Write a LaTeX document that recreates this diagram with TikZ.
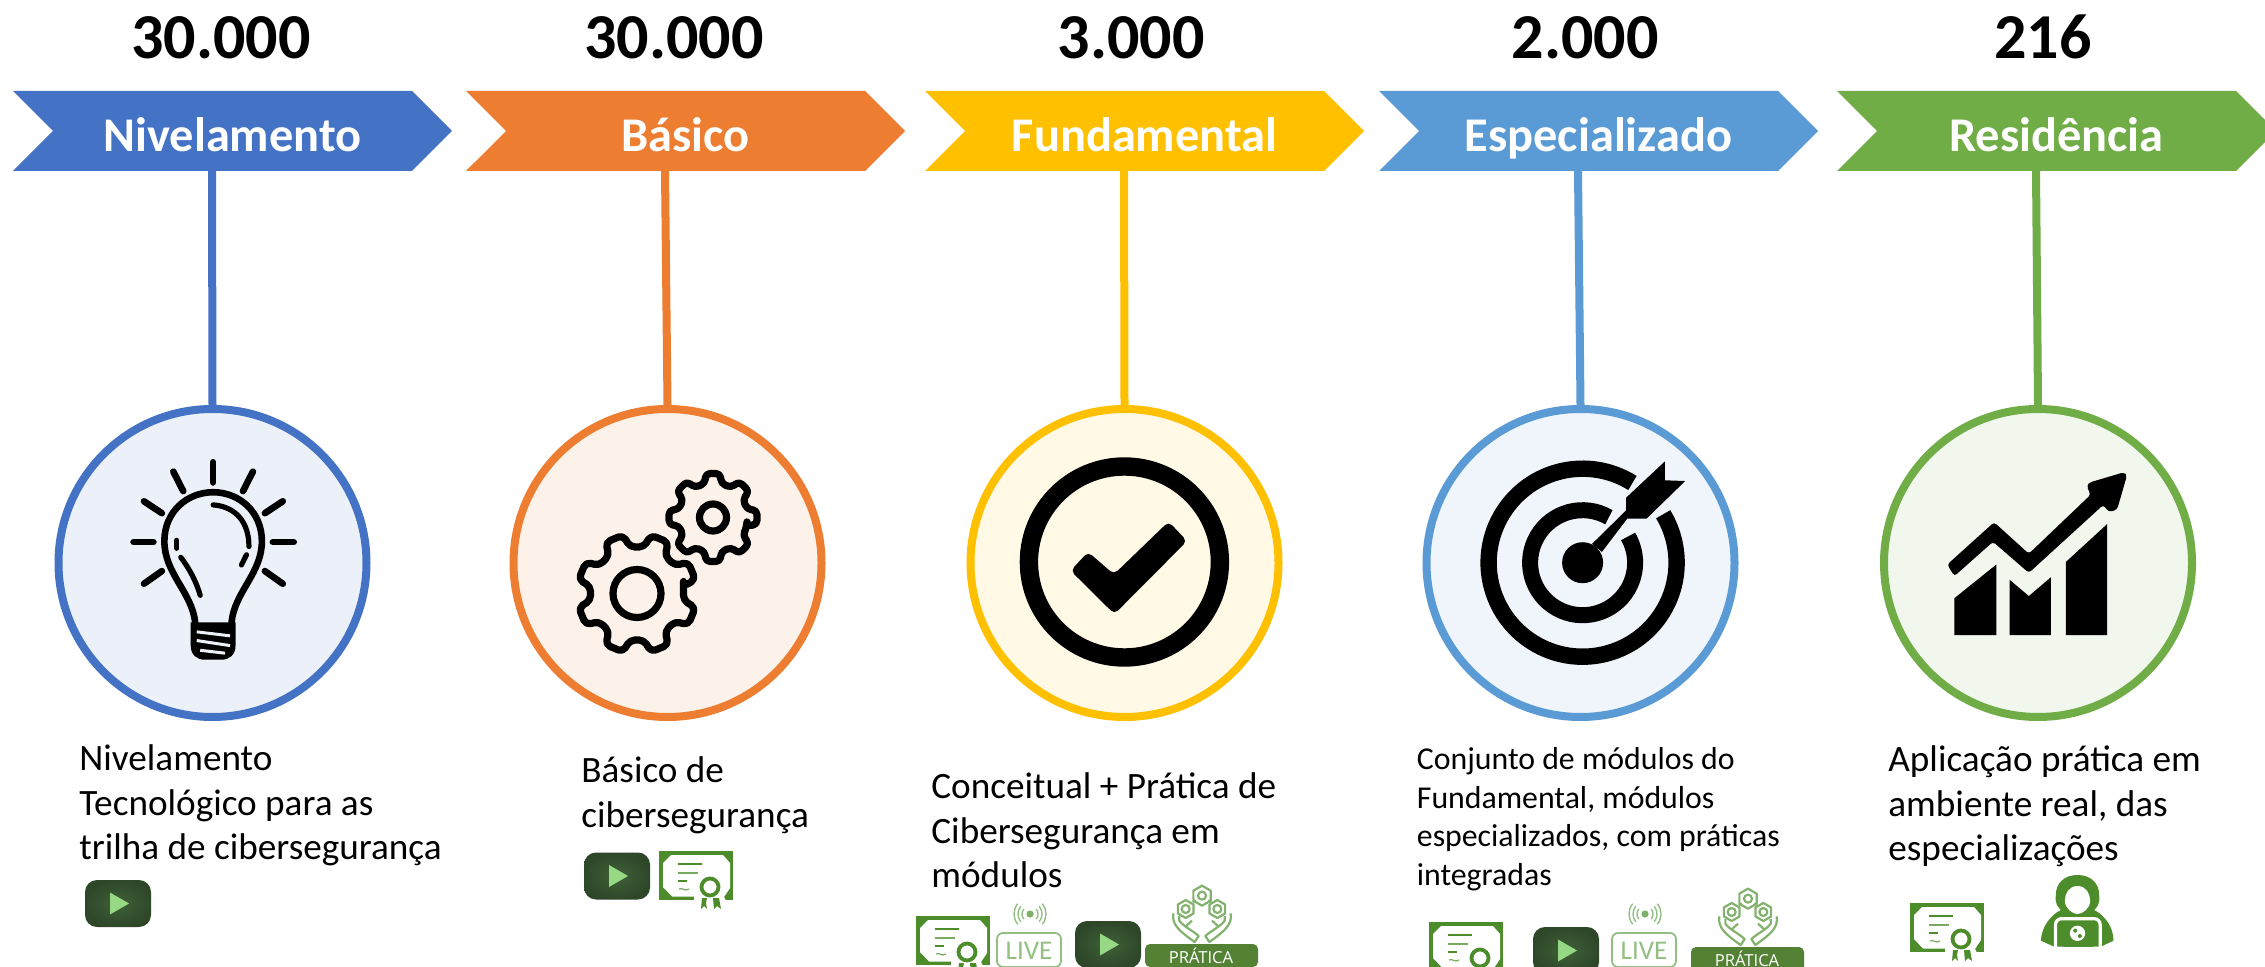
\documentclass[tikz,border=0pt]{standalone}
\usepackage{fontspec}
\setmainfont{Carlito}
\newfontfamily\opensans{Open Sans}
\usetikzlibrary{shapes.symbols,calc}
\definecolor{cBlue}{HTML}{4472C4}
\definecolor{cOrange}{HTML}{ED7D31}
\definecolor{cYellow}{HTML}{FFC000}
\definecolor{cSky}{HTML}{5B9BD5}
\definecolor{cGreen}{HTML}{70AD47}
\definecolor{gDark}{HTML}{4C8C2B}
\definecolor{gLight}{HTML}{94BF83}
\definecolor{gPlay}{HTML}{3F6138}
\definecolor{gPlayEdge}{HTML}{2E4729}
\definecolor{gTri}{HTML}{97D884}
\definecolor{gBar}{HTML}{548235}
\tikzset{
  chev/.style={signal,signal to=east,signal from=west,signal pointer angle=90,
    minimum width=219.5pt,minimum height=40pt,inner sep=0pt,outer sep=0pt,
    fill=#1,text=white,font=\fontsize{24.2}{26}\selectfont\bfseries,text height=20.5pt,text depth=0pt},
  ring/.style={circle,draw=#1,fill=#1!10!white,line width=4pt,minimum size=154pt,inner sep=0pt},
  conn/.style={draw=#1,line width=4pt},
  count/.style={font=\fontsize{32}{36}\selectfont\bfseries,anchor=base,inner sep=0pt},
  desc/.style={font=\fontsize{18.6}{22.4}\selectfont,align=left,anchor=north west,inner sep=0pt},
  descs/.style={font=\fontsize{15.9}{19.2}\selectfont,align=left,anchor=north west,inner sep=0pt},
  ico/.style={line width=3.3pt,line cap=round,line join=round,draw=black},
  pics/playicon/.style={code={
    \shade[inner color=gPlay,outer color=gPlayEdge,rounded corners=6pt] (-33,-23.5) rectangle (33,23.5);
    \fill[gTri] (-8,-11) -- (11,0) -- (-8,11) -- cycle;
  }},
  pics/certicon/.style={code={
    \fill[gDark] (0,0) rectangle (74,49);
    \fill[white] (12,4) -- (64,4) -- (71,12) -- (71,37) -- (65,46) -- (67,50) -- (35,50) -- (35,45.5) -- (13,45.5) -- (4,36) -- (4,12) -- cycle;
    \draw[gDark,line width=.9pt] (19,13) -- (43,13);
    \draw[gLight!60!gDark,line width=.9pt] (19,22) -- (39,22);
    \draw[gDark,line width=.9pt] (19,30) -- (28,30);
    \draw[gLight!60!gDark,line width=.6pt] (20,38) .. controls (23,36) and (26,41) .. (30,38);
    \draw[gDark,line width=1.9pt] (51,36) circle[radius=8.5];
    \fill[gDark] (43,47) -- (48,47) -- (47,52) -- (48,58) -- (45,55) -- (42,58) -- cycle;
    \fill[gDark] (54,47) -- (60,47) -- (62,58) -- (58,55) -- (55,58) -- cycle;
  }},
  pics/liveicon/.style={code={
    \draw[gLight,line width=.9pt,rounded corners=3pt] (0,0) rectangle (64,34);
    \node[text=gLight,font=\fontsize{13.5}{14}\selectfont,inner sep=0pt] (-t) at (32,18) {LIVE};
    \fill[gLight!70!gDark] (33,-19) circle[radius=3.6];
    \foreach \r in {8,12,16}{
      \draw[gLight,line width=.7pt] ($(33,-19)+(-40:\r)$) arc[start angle=-40,end angle=40,radius=\r];
      \draw[gLight,line width=.7pt] ($(33,-19)+(140:\r)$) arc[start angle=140,end angle=220,radius=\r];
    }
  }},
  pics/handsicon/.style={code={
    \begin{scope}[scale=1/3,gLight!75!gDark,line width=1.1pt,line join=round]
      \foreach \c/\q in {(0,47)/30,(-49,87)/27,(46,87)/27}{
        \draw \c ++(-30:\q) -- ++(90:\q) -- ++(150:\q) -- ++(210:\q) -- ++(270:\q) -- ++(330:\q) -- cycle;
        \draw \c circle[radius=12];
      }
      \foreach \s in {1,-1}{
        \begin{scope}[xscale=\s]
          \draw (-86,100) .. controls (-92,135) and (-65,155) .. (-22,186) -- (-10,168) .. controls (-30,150) and (-55,140) .. (-68,122) -- (-68,108);
          \draw (-50,140) -- (-30,122);
        \end{scope}
      }
      \draw (-27,68) -- (-20,60) (27,68) -- (20,60);
    \end{scope}
  }},
  pics/hackericon/.style={code={
    \begin{scope}[scale=1/3]
      \fill[gDark] (0,15) .. controls (-40,15) and (-65,40) .. (-65,75)
        .. controls (-68,100) and (-60,110) .. (-50,120)
        .. controls (-80,135) and (-108,170) .. (-110,212)
        -- (-70,230) -- (70,230) -- (108,212)
        .. controls (108,170) and (80,135) .. (50,120)
        .. controls (60,110) and (68,100) .. (65,75)
        .. controls (65,40) and (40,15) .. (0,15) -- cycle;
      \fill[white] (0,48) .. controls (-25,48) and (-38,70) .. (-38,92)
         .. controls (-38,115) and (-15,132) .. (0,132)
         .. controls (15,132) and (38,115) .. (38,92)
         .. controls (38,70) and (25,48) .. (0,48) -- cycle;
      \draw[white,line width=1.6pt,rounded corners=3pt] (-66,235) -- (-66,146) -- (68,146) -- (68,235);
      \fill[white] (0,190) circle[radius=23];
      \fill[gDark] (-7,182) circle[radius=6] (7,198) circle[radius=6];
      \draw[gDark,line width=1.6pt] (-45,226) -- (45,226);
      \draw[white,line width=1.4pt] (-45,240) -- (45,240);
    \end{scope}
  }},
}
\begin{document}
\begin{tikzpicture}[x=0.5pt,y=-0.5pt]
\path[use as bounding box,fill=white] (0,0) rectangle (2265,967);

% counts
\node[count] (n1) at (221,59) {30.000};
\node[count] (n2) at (674,59) {30.000};
\node[count] (n3) at (1131,59) {3.000};
\node[count] (n4) at (1585,59) {2.000};
\node[count] (n5) at (2043,59) {216};

% chevrons
\node[chev=cBlue]   (c1) at (232.5,131)  {Nivelamento};
\node[chev=cOrange] (c2) at (685.5,131)  {Básico};
\node[chev=cYellow] (c3) at (1144.5,131) {Fundamental};
\node[chev=cSky]    (c4) at (1598.5,131) {Especializado};
\node[chev=cGreen]  (c5) at (2056.5,131) {Residência};

% circles
\node[ring=cBlue]   (r1) at (212.5,563) {};
\node[ring=cOrange] (r2) at (667.5,563) {};
\node[ring=cYellow] (r3) at (1124.5,563) {};
\node[ring=cSky]    (r4) at (1580.5,563) {};
\node[ring=cGreen]  (r5) at (2038,563) {};

% connectors
\draw[conn=cBlue]   ($(c1.south)+(-20.5,0)$) -- (r1.north);
\draw[conn=cOrange] ($(c2.south)+(-20.5,0)$) -- (r2.north);
\draw[conn=cYellow] ($(c3.south)+(-20.5,0)$) -- (r3.north);
\draw[conn=cSky]    ($(c4.south)+(-20.5,0)$) -- (r4.north);
\draw[conn=cGreen]  ($(c5.south)+(-20.5,0)$) -- (r5.north);

% bulb
\begin{scope}[shift={(40,400)},xscale=0.4975,yscale=0.3617]
  \foreach \a/\b/\c/\d in {348/172/348/228,268/198/288/252,428/198/408/252,209/280/245/313,488/280/452/313,188/393/228/393,468/393/510/393,209/508/245/473,488/508/452/473}
    \draw[ico] (\a,\b) -- (\c,\d);
  \draw[ico] (312,615) .. controls (305,530) and (250,480) .. (250,390)
     .. controls (250,310) and (295,255) .. (348,255)
     .. controls (401,255) and (446,310) .. (446,390)
     .. controls (446,480) and (391,530) .. (385,615);
  \fill (303,615) -- (393,615) -- (393,680) .. controls (393,705) and (380,718) .. (365,718)
     -- (331,718) .. controls (316,718) and (303,705) .. (303,680) -- cycle;
  \draw[cBlue!10!white,line width=1.5pt] (315,641) -- (382,652) (315,665) -- (382,679) (322,692) -- (372,700);
  \draw[ico,line width=2.6pt] (348,290) .. controls (395,295) and (420,340) .. (420,405);
  \draw[ico,line width=2.6pt] (275,388) -- (275,410);
  \draw[ico,line width=2.6pt] (283,435) .. controls (300,465) and (315,505) .. (322,540);
  \draw[ico,line width=2.6pt] (415,428) -- (405,456);
\end{scope}

% gears
\begin{scope}[shift={(637,593.5)},yscale=-1]
  \draw[ico,line width=3.6pt,rounded corners=2.5pt] (22.5-14:47)
    \foreach \a in {22.5,67.5,...,337.5}{ -- (\a-14:47) -- (\a-9:60) -- (\a+9:60) -- (\a+14:47) } -- cycle;
  \draw[ico,line width=3.6pt] (0,0) circle[radius=24];
\end{scope}
\begin{scope}[shift={(713,517.5)},yscale=-1]
  \draw[ico,line width=3.6pt,rounded corners=2pt] (0-14:35)
    \foreach \a in {0,45,...,315}{ -- (\a-14:35) -- (\a-9:44.5) -- (\a+9:44.5) -- (\a+14:35) } -- cycle;
  \draw[ico,line width=3.6pt] (0,0) circle[radius=13.5];
\end{scope}

% check
\draw[line width=9.2pt] (1124.4,562) circle[radius=95.5];
\begin{scope}[shift={(900,400)},xscale=0.4975,yscale=0.3617]
  \fill[rounded corners=2.5pt] (343,472) -- (378,420) -- (430,482) -- (540,336) -- (577,390) -- (431,592) -- cycle;
\end{scope}

% target
\begin{scope}[shift={(1582.6,562.7)},yscale=-1]
  \draw[line width=8.2pt] (58:94) arc[start angle=58,end angle=391,radius=94];
  \draw[line width=8pt] (60:52.5) arc[start angle=60,end angle=390,radius=52.5];
  \fill (0,0) circle[radius=20.5];
\end{scope}
\begin{scope}[shift={(1400,400)},xscale=0.5516,yscale=0.3617]
  \fill (348,398) -- (410,305) -- (410,270) -- (480,170) -- (480,222) -- (517,224) -- (447,328) -- (412,328) -- (366,420) -- cycle;
\end{scope}

% chart
\begin{scope}[shift={(1400,400)},xscale=0.5516,yscale=0.3617]
  \fill (1005,650) -- (1005,548) -- (1081,455) -- (1081,650) -- cycle;
  \fill (1105,650) -- (1105,497) -- (1140,542) -- (1180,490) -- (1180,650) -- cycle;
  \fill (1207,650) -- (1207,448) -- (1282,343) -- (1282,650) -- cycle;
  \fill[rounded corners=1.5pt] (992,455) -- (1077,338) -- (1140,425) -- (1252,262) -- (1245,238) -- (1250,228) -- (1312,200) -- (1318,208) -- (1300,303) -- (1285,310) -- (1275,290) -- (1140,478) -- (1075,392) -- (1005,487) -- cycle;
\end{scope}

% descriptions
\node[desc] (d1) at (79,744) {Nivelamento\\Tecnológico para as\\trilha de cibersegurança};
\node[desc] (d2) at (581,756) {Básico de\\cibersegurança};
\node[desc] (d3) at (931,772) {Conceitual + Prática de\\Cibersegurança em\\módulos};
\node[descs] (d4) at (1416.5,747.5) {Conjunto de módulos do\\Fundamental, módulos\\especializados, com práticas\\integradas};
\node[desc] (d5) at (1888,745) {Aplicação prática em\\ambiente real, das\\especializações};

% small icons
\pic at (118,903.5) {playicon};
\pic at (617,876) {playicon};
\pic at (659,851) {certicon};

\pic at (916,916) {certicon};
\pic at (997,933) {liveicon};
\pic at (1108,944.5) {playicon};
\pic at (1202,880) {handsicon};
\fill[gBar,rounded corners=2.5pt] (1145,944) rectangle (1258,967);
\node[text=white,font=\opensans\fontsize{8.3}{10}\selectfont,inner sep=0pt] (p3) at (1201,956) {PRÁTICA};

\pic at (1429,922) {certicon};
\pic at (1566,950.5) {playicon};
\pic at (1612,933) {liveicon};
\pic at (1748,883) {handsicon};
\fill[gBar,rounded corners=2.5pt] (1691,947) rectangle (1804,972);
\node[text=white,font=\opensans\fontsize{8.3}{10}\selectfont,inner sep=0pt] (p4) at (1747,959) {PRÁTICA};

\pic at (1910,903) {certicon};
\pic at (2077.5,870) {hackericon};
\end{tikzpicture}
\end{document}
